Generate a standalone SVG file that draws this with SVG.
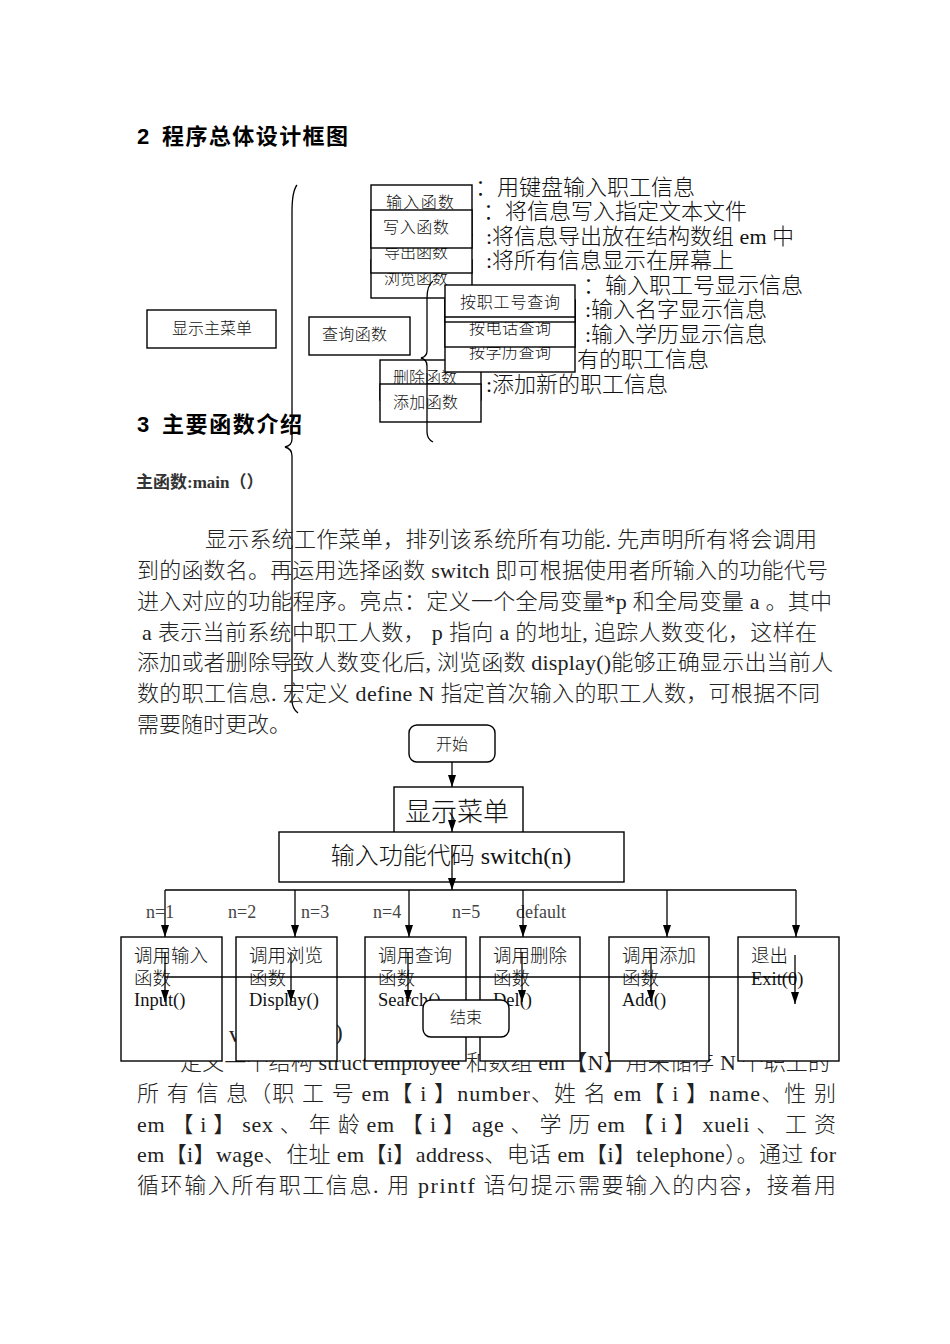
<svg xmlns="http://www.w3.org/2000/svg" width="950" height="1344" viewBox="0 0 950 1344">
<style>
.t{font-family:"Liberation Serif","Noto Sans CJK SC",serif;fill:#111;font-weight:300}
.h{font-family:"Liberation Sans","Noto Sans CJK SC",sans-serif;font-weight:bold;fill:#000}
.s16{font-size:16px}
.s18{font-size:18.5px}
.r{font-size:22px}
.p{font-size:22px;fill:#222}
.n{font-size:18px;fill:#444}
.b{fill:#fff;stroke:#000;stroke-width:1.4}
.l{stroke:#000;stroke-width:1.3;fill:none}
.a{stroke:#000;stroke-width:1.3;fill:none;marker-end:url(#ah)}
</style>
<defs>
<marker id="ah" viewBox="0 0 8 12" refX="4" refY="12" markerWidth="8" markerHeight="12" markerUnits="userSpaceOnUse" orient="0"><path d="M0,0L8,0L4,12z" fill="#000"/></marker>
</defs>
<rect x="0" y="0" width="950" height="1344" fill="#fff"/>

<!-- headings -->
<text class="h" font-size="22" y="144"><tspan x="137">2</tspan><tspan x="162" textLength="186">程序总体设计框图</tspan></text>

<!-- right-side descriptions -->
<g id="descriptions" class="t r">
<text x="475" y="195">：用键盘输入职工信息</text>
<text x="483" y="219">：将信息写入指定文本文件</text>
<text x="486" y="244">:将信息导出放在结构数组 em 中</text>
<text x="486" y="268">:将所有信息显示在屏幕上</text>
<text x="583" y="293">：输入职工号显示信息</text>
<text x="585" y="317">:输入名字显示信息</text>
<text x="585" y="342">:输入学历显示信息</text>
<text x="577" y="367">有的职工信息</text>
<text x="486" y="392">:添加新的职工信息</text>
</g>

<g id="box-input"><rect class="b" x="371" y="185" width="101" height="50"/><text class="t s16" x="386" y="208" textLength="68">输入函数</text></g>
<g id="box-browse"><rect class="b" x="371" y="260" width="101" height="38"/><text class="t s16" x="384" y="284" textLength="64">浏览函数</text></g>
<g id="box-export"><rect class="b" x="371" y="235" width="101" height="38"/><text class="t s16" x="384" y="258" textLength="64">导出函数</text></g>
<g id="box-write"><rect class="b" x="371" y="210" width="101" height="38"/><text class="t s16" x="383" y="233" textLength="66">写入函数</text></g>

<g id="main-menu"><rect class="b" x="147" y="310" width="129" height="38"/><text class="t s16" x="172" y="334" textLength="80">显示主菜单</text></g>
<g id="query"><rect class="b" x="309" y="317" width="101" height="38"/><text class="t s16" x="322" y="340" textLength="65">查询函数</text></g>
<g id="box-delete"><rect class="b" x="380" y="360" width="101" height="40"/><text class="t s16" x="393" y="383" textLength="64">删除函数</text></g>
<g id="box-add"><rect class="b" x="380" y="384" width="101" height="38"/><text class="t s16" x="393" y="408" textLength="65">添加函数</text></g>

<g id="q-edu"><rect class="b" x="445" y="300" width="130" height="72"/><text class="t s16" x="469" y="358" textLength="82">按学历查询</text></g>
<g id="q-tel"><rect class="b" x="445" y="300" width="130" height="47"/><text class="t s16" x="469" y="334" textLength="82">按电话查询</text></g>
<g id="q-id"><rect class="b" x="445" y="285" width="130" height="37"/><line class="l" x1="445" y1="317" x2="575" y2="317"/><text class="t s16" x="460" y="308" textLength="100">按职工号查询</text></g>

<text class="h" font-size="22" y="432"><tspan x="137">3</tspan><tspan x="162" textLength="140">主要函数介绍</tspan></text>

<!-- braces -->
<g id="braces">
<path class="l" d="M297,185 C293,190 292,198 292,212 L292,439 C292,444 289,446 285,447 C289,448 292,451 292,456 L292,700 C292,706 294,710 298,713"/>
<path class="l" d="M433,281 C429,284 427,290 427,298 L427,351 C427,355 425,357 421,358 C425,359 427,362 427,366 L427,432 C427,437 429,440 433,442"/>
</g>

<!-- main function text -->
<text x="136" y="488" font-size="17" font-weight="bold" fill="#333" font-family="Liberation Serif, Noto Sans CJK SC, serif">主函数:main（）</text>

<g id="para1" class="t p">
<text x="205" y="547" textLength="612" lengthAdjust="spacing">显示系统工作菜单，排列该系统所有功能. 先声明所有将会调用</text>
<text x="137" y="578" textLength="691" lengthAdjust="spacing">到的函数名。再运用选择函数 switch 即可根据使用者所输入的功能代号</text>
<text x="137" y="609" textLength="695" lengthAdjust="spacing">进入对应的功能程序。亮点：定义一个全局变量*p 和全局变量 a 。其中</text>
<text x="142" y="640" textLength="675" lengthAdjust="spacing">a 表示当前系统中职工人数， p 指向 a 的地址, 追踪人数变化，这样在</text>
<text x="137" y="670" textLength="696" lengthAdjust="spacing">添加或者删除导致人数变化后, 浏览函数 display()能够正确显示出当前人</text>
<text x="137" y="701" textLength="683" lengthAdjust="spacing">数的职工信息. 宏定义 define  N 指定首次输入的职工人数，可根据不同</text>
<text x="137" y="732">需要随时更改。</text>
</g>

<!-- text partly hidden by flowchart boxes -->
<g id="para2-hidden" class="t p">
<text x="229" y="1042" font-size="23">v</text>
<text x="335" y="1040" font-size="23">)</text>
<text x="180" y="1070" textLength="650" lengthAdjust="spacing">定义一个结构 struct employee 和数组 em【N】用来储存 N 个职工的</text>
</g>

<!-- flowchart nodes -->
<g id="start"><rect class="b" x="409" y="725" width="86" height="37" rx="8"/><text class="t s16" x="452" y="750" text-anchor="middle">开始</text></g>
<g id="show-menu"><rect class="b" x="394" y="787" width="129" height="48"/><text class="t" font-size="26" x="457" y="821" text-anchor="middle">显示菜单</text></g>
<g id="input-code"><rect class="b" x="279" y="832" width="345" height="50"/><text class="t" font-size="24" x="451" y="864" text-anchor="middle">输入功能代码 switch(n)</text></g>

<g id="labels" class="t n">
<text x="146" y="918">n=1</text>
<text x="228" y="918">n=2</text>
<text x="301" y="918">n=3</text>
<text x="373" y="918">n=4</text>
<text x="452" y="918">n=5</text>
<text x="516" y="918">default</text>
</g>

<g id="call-input"><rect class="b" x="121" y="937" width="101" height="124"/><text class="t s18" x="134" y="962">调用输入</text><text class="t s18" x="134" y="985">函数</text><text class="t s18" x="134" y="1006">Input()</text></g>
<g id="call-display"><rect class="b" x="236" y="937" width="101" height="124"/><text class="t s18" x="249" y="962">调用浏览</text><text class="t s18" x="249" y="985">函数</text><text class="t s18" x="249" y="1006">Display()</text></g>
<g id="call-search"><rect class="b" x="365" y="937" width="101" height="124"/><text class="t s18" x="378" y="962">调用查询</text><text class="t s18" x="378" y="985">函数</text><text class="t s18" x="378" y="1006">Search()</text></g>
<g id="call-del"><rect class="b" x="480" y="937" width="100" height="124"/><text class="t s18" x="493" y="962">调用删除</text><text class="t s18" x="493" y="985">函数</text><text class="t s18" x="493" y="1006">Del()</text></g>
<g id="call-add"><rect class="b" x="609" y="937" width="100" height="124"/><text class="t s18" x="622" y="962">调用添加</text><text class="t s18" x="622" y="985">函数</text><text class="t s18" x="622" y="1006">Add()</text></g>
<g id="exit"><rect class="b" x="738" y="937" width="101" height="124"/><text class="t s18" x="751" y="962">退出</text><text class="t s18" x="751" y="985">Exit(0)</text></g>

<!-- connectors -->
<g id="connectors">
<line class="a" x1="452" y1="762" x2="452" y2="787"/>
<line class="a" x1="452" y1="808" x2="452" y2="832"/>
<line class="a" x1="452" y1="845" x2="452" y2="890"/>
<line class="l" x1="165" y1="890" x2="796" y2="890"/>
<line class="a" x1="165" y1="890" x2="165" y2="937"/>
<line class="a" x1="295" y1="890" x2="295" y2="937"/>
<line class="a" x1="409" y1="890" x2="409" y2="937"/>
<line class="a" x1="523" y1="890" x2="523" y2="937"/>
<line class="a" x1="667" y1="890" x2="667" y2="937"/>
<line class="a" x1="796" y1="890" x2="796" y2="937"/>
<line class="a" x1="165" y1="952" x2="165" y2="1002"/>
<line class="a" x1="291" y1="952" x2="291" y2="1002"/>
<line class="a" x1="408" y1="952" x2="408" y2="1002"/>
<line class="a" x1="522" y1="952" x2="522" y2="1002"/>
<line class="a" x1="651" y1="952" x2="651" y2="1002"/>
<line class="a" x1="795" y1="955" x2="795" y2="1004"/>
<line class="l" x1="165" y1="977" x2="795" y2="977"/>
</g>

<g id="end"><rect class="b" x="423" y="1000" width="86" height="37" rx="8"/><text class="t s16" x="466" y="1023" text-anchor="middle">结束</text></g>

<g id="para3" class="t p">
<text x="137" y="1101" textLength="699" lengthAdjust="spacing">所 有 信 息（职 工 号 em【 i 】number、姓 名 em【 i 】name、性 别</text>
<text x="137" y="1132" textLength="699" lengthAdjust="spacing">em 【 i 】 sex 、 年 龄 em 【 i 】 age 、 学 历 em 【 i 】 xueli 、 工 资</text>
<text x="137" y="1162" textLength="699" lengthAdjust="spacing">em【i】wage、住址 em【i】address、电话 em【i】telephone）。通过 for</text>
<text x="137" y="1193" textLength="699" lengthAdjust="spacing">循环输入所有职工信息. 用 printf 语句提示需要输入的内容，接着用</text>
</g>
</svg>
